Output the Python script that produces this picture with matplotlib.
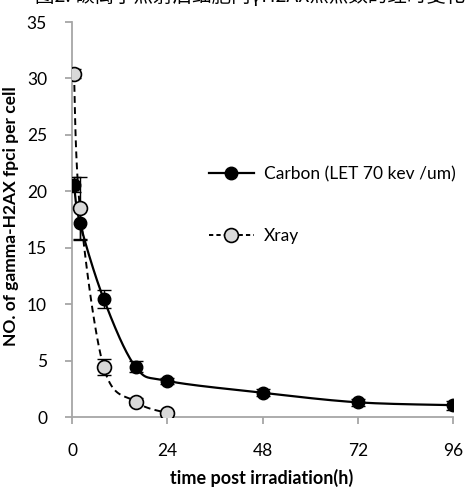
import matplotlib
matplotlib.use("Agg")
import matplotlib.pyplot as plt
import numpy as np

# data
hours = [0.5, 2, 8, 16, 24, 48, 72, 96]
carbon = [20.6, 17.2, 10.45, 4.45, 3.2, 2.15, 1.3, 1.05]
carbon_err = [0.7, 1.4, 0.8, 0.5, 0.3, 0.3, 0.3, 0.4]
xray_hours = [0.5, 2, 8, 16, 24]
xray = [30.4, 18.5, 4.4, 1.35, 0.35]
xray_err = [0.4, 2.8, 0.7, 0.3, 0.2]

xticks = [0, 24, 48, 72, 96]
yticks = [0, 5, 10, 15, 20, 25, 30, 35]
title = "图2. 碳离子照射后细胞内γH2AX焦点数的经时变化"

GRAY = "#A6A6A6"
plt.rcParams["font.family"] = ["Lato", "DejaVu Sans"]

fig = plt.figure(figsize=(4.66, 4.91), dpi=100)
ax = fig.add_axes([72 / 466, 1 - 417 / 491, (453 - 72) / 466, (417 - 22) / 491])
ax.set_xlim(0, 96)
ax.set_ylim(0, 35)


def smooth(xs, ys, n=30):
    # Excel-like smoothed line (bezier through points), built in screen space
    pts = ax.transData.transform(np.column_stack([xs, ys]))
    out = [pts[0]]
    for i in range(len(pts) - 1):
        p0 = pts[max(i - 1, 0)]
        p1, p2 = pts[i], pts[i + 1]
        p3 = pts[min(i + 2, len(pts) - 1)]
        c1 = p1 + (p2 - p0) / 6
        c2 = p2 - (p3 - p1) / 6
        t = np.linspace(0, 1, n)[1:, None]
        seg = ((1 - t) ** 3) * p1 + 3 * ((1 - t) ** 2) * t * c1 \
            + 3 * (1 - t) * t ** 2 * c2 + t ** 3 * p2
        out.extend(seg)
    back = ax.transData.inverted().transform(np.array(out))
    return back[:, 0], back[:, 1]


sx, sy = smooth(hours, carbon)
ax.plot(sx, sy, color="black", lw=1.6, zorder=3)
sx, sy = smooth(xray_hours, xray)
ax.plot(sx, sy, color="black", lw=1.4, ls=(0, (3.5, 2.2)), zorder=3)

ax.errorbar(hours, carbon, yerr=carbon_err, fmt="none", ecolor="black",
            elinewidth=1, capsize=5, capthick=1, zorder=4)
ax.errorbar(xray_hours, xray, yerr=xray_err, fmt="none", ecolor="black",
            elinewidth=1, capsize=5, capthick=1, zorder=4)
ax.plot(hours, carbon, "o", ms=9, mfc="black", mec="black", zorder=5)
ax.plot(xray_hours, xray, "o", ms=10, mfc="#D9D9D9", mec="black", mew=1.2, zorder=5)

# legend handles
h1, = ax.plot([], [], "-o", color="black", lw=1.6, ms=9, mfc="black")
h2, = ax.plot([], [], "--o", color="black", lw=1.4, ms=10, mfc="#D9D9D9",
              mew=1.2, dashes=(2.2, 1.6))
fig.legend([h1, h2], ["Carbon (LET 70 kev /um)", "Xray"], loc="center left",
           bbox_to_anchor=(193 / 466, 1 - 205 / 491), frameon=False, fontsize=12.5,
           handlelength=2.6, handletextpad=0.6, labelspacing=2.65)

for s in ["top", "right"]:
    ax.spines[s].set_visible(False)
for s in ["left", "bottom"]:
    ax.spines[s].set_color(GRAY)
    ax.spines[s].set_linewidth(1.3)
ax.set_xticks(xticks)
ax.set_yticks(yticks)
ax.tick_params(axis="both", direction="out", length=5, width=1.3, color=GRAY,
               labelsize=12.5)
ax.tick_params(axis="x", pad=14)
ax.tick_params(axis="y", pad=13)

ax.set_xlabel("time post irradiation(h)", fontsize=13, fontweight="bold")
ax.set_ylabel("NO. of gamma-H2AX fpci per cell", fontsize=12.5, fontweight="bold")
ax.xaxis.set_label_coords((262 - 72) / 381, -(469 - 417) / 395)
ax.yaxis.set_label_coords(-(72 - 19) / 381, (417 - 216) / 395)

# title only partly inside the picture, as in the reference
fig.text(35 / 466, 1 + 3 / 491, title, fontsize=14, ha="left", va="center",
         family=["Noto Sans CJK SC", "DejaVu Sans"])

fig.savefig("out.png", dpi=100)
